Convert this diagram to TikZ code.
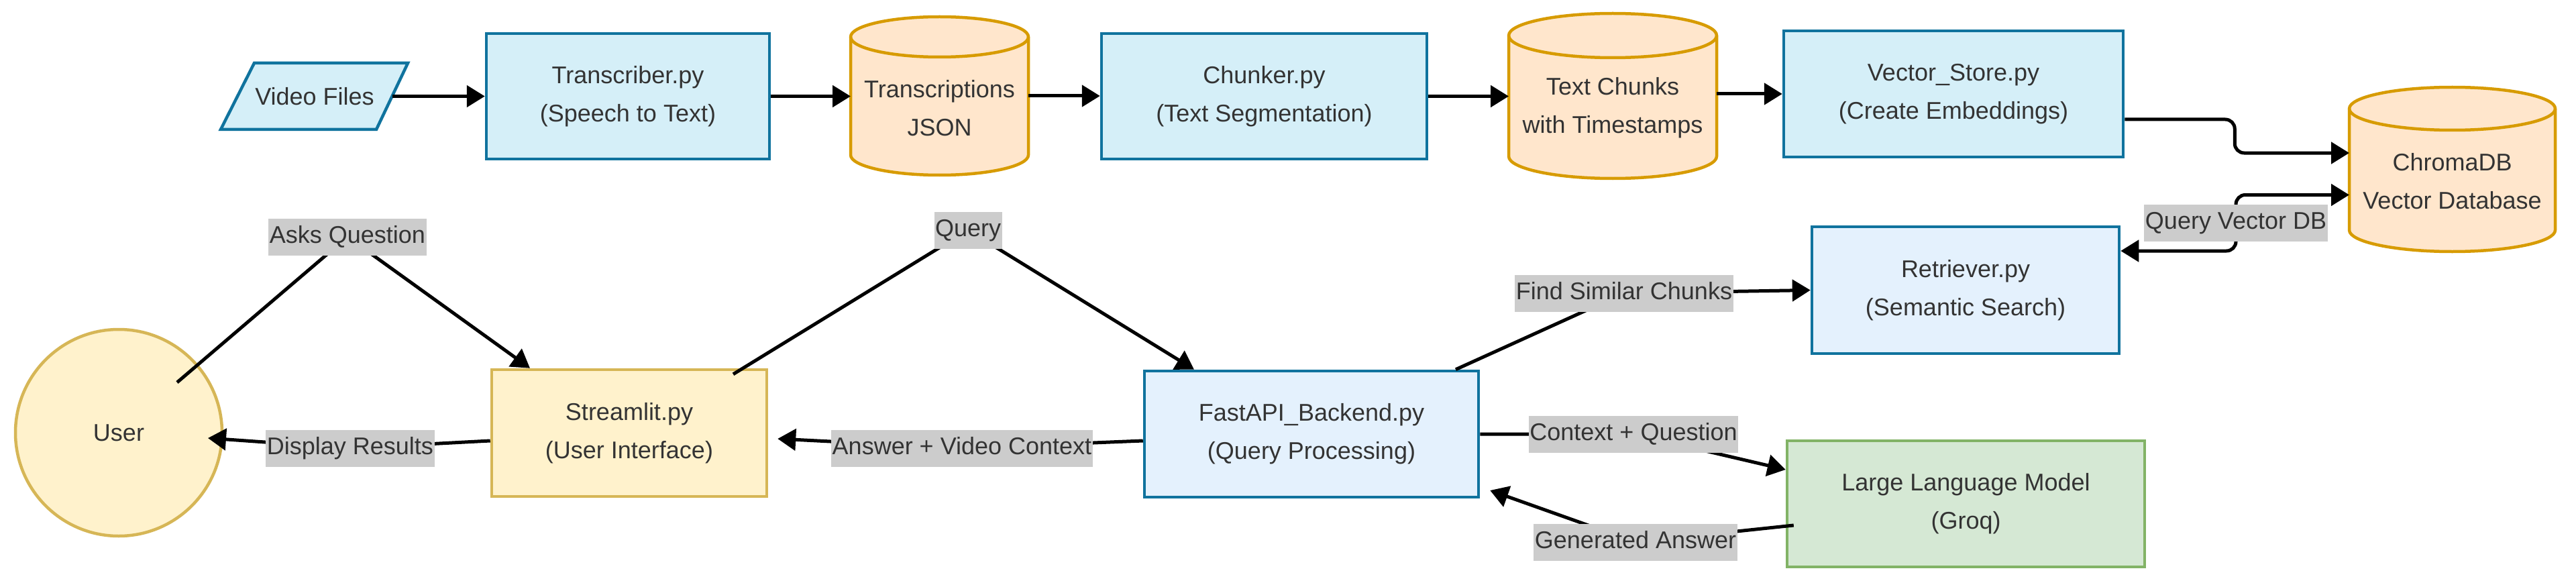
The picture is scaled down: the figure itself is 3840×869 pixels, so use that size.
\documentclass[tikz,border=0pt]{standalone}
\usepackage{fontspec}
\setmainfont{Liberation Sans}
\usetikzlibrary{arrows.meta,calc}
\definecolor{txt}{HTML}{333333}
\definecolor{tbfill}{HTML}{D5EFF8}
\definecolor{tbdraw}{HTML}{10739E}
\definecolor{lbfill}{HTML}{E4F1FD}
\definecolor{cyfill}{HTML}{FFE6CC}
\definecolor{cydraw}{HTML}{D79B00}
\definecolor{yefill}{HTML}{FFF2CC}
\definecolor{yedraw}{HTML}{D6B656}
\definecolor{grfill}{HTML}{D5E8D4}
\definecolor{grdraw}{HTML}{82B366}
\definecolor{lblgray}{HTML}{CCCCCC}
\pgfdeclarelayer{edges}
\pgfdeclarelayer{labels}
\pgfsetlayers{main,edges,labels}
\tikzset{
  basetext/.style={font=\fontsize{36pt}{57pt}\selectfont, text=txt, align=center, inner sep=0pt},
  topbox/.style={basetext, draw=tbdraw, fill=tbfill, line width=4.5pt},
  lightbox/.style={basetext, draw=tbdraw, fill=lbfill, line width=4.5pt},
  yellowbox/.style={basetext, draw=yedraw, fill=yefill, line width=4.5pt},
  greenbox/.style={basetext, draw=grdraw, fill=grfill, line width=4.5pt},
  cylanchor/.style={inner sep=0pt, outer sep=0pt},
  cylbody/.style={draw=cydraw, fill=cyfill, line width=4.5pt},
  cylrim/.style={draw=cydraw, line width=4.5pt},
  edgelabel/.style={basetext, fill=lblgray, inner xsep=1.5pt, inner ysep=0pt,
    minimum height=55pt, text height=26pt, text depth=7.5pt},
  edge/.style={draw=black, line width=5pt, -{Triangle[length=27pt,width=32pt]}},
  biedge/.style={draw=black, line width=5pt, {Triangle[length=27pt,width=32pt]}-{Triangle[length=27pt,width=32pt]}},
}
\newcommand{\mycyl}[3]{%
  \path[cylbody] ([yshift=-#3pt]#1.north west) -- ([yshift=#3pt]#1.south west)
    arc[start angle=180,end angle=360,x radius=#2pt,y radius=#3pt]
    -- ([yshift=-#3pt]#1.north east)
    arc[start angle=0,end angle=180,x radius=#2pt,y radius=#3pt] -- cycle;
  \path[cylrim] ([yshift=-#3pt]#1.north west)
    arc[start angle=180,end angle=360,x radius=#2pt,y radius=#3pt];
}
\begin{document}
\begin{tikzpicture}[x=1pt,y=-1pt]
\useasboundingbox (0,0) rectangle (3840,869);
\fill[white] (0,0) rectangle (3840,869);

% Video files (parallelogram)
\path[draw=tbdraw, fill=tbfill, line width=4.5pt] (379,94) -- (608,94) -- (561,193) -- (329,193) -- cycle;
\node[basetext] (vf) at (469,143.5) {Video Files};
\coordinate (vfR) at (584.5,143.5);

% top row
\node[topbox, minimum width=422pt, minimum height=187pt] (trans) at (936,143.5) {Transcriber.py\\(Speech to Text)};

\node[cylanchor, minimum width=265pt, minimum height=236pt] (tj) at (1400.5,143) {};
\mycyl{tj}{132.5}{30}
\node[basetext] (tjT) at (1400.5,161) {Transcriptions\\JSON};

\node[topbox, minimum width=485pt, minimum height=187pt] (chunk) at (1884.5,143.5) {Chunker.py\\(Text Segmentation)};

\node[cylanchor, minimum width=310pt, minimum height=246pt] (tc) at (2404,143) {};
\mycyl{tc}{155}{33}
\node[basetext] (tcT) at (2404,161) {Text Chunks\\with Timestamps};

\node[topbox, minimum width=506pt, minimum height=188pt] (vstore) at (2912,140) {Vector\_Store.py\\(Create Embeddings)};

\node[cylanchor, minimum width=307pt, minimum height=245pt] (chroma) at (3655.5,252.5) {};
\mycyl{chroma}{153.5}{32}
\node[basetext] (chromaT) at (3655.5,270) {ChromaDB\\Vector Database};

% lower part
\node[basetext, circle, draw=yedraw, fill=yefill, line width=4.5pt, minimum size=308pt] (user) at (177,645) {User};
\coordinate (uOut) at (264,570);
\coordinate (uIn) at (310,653);

\node[yellowbox, minimum width=410pt, minimum height=189pt] (stream) at (938,645.5) {Streamlit.py\\(User Interface)};
\node[lightbox, minimum width=498pt, minimum height=188pt] (fast) at (1955,647) {FastAPI\_Backend.py\\(Query Processing)};
\node[lightbox, minimum width=458pt, minimum height=189pt] (retr) at (2930,432.5) {Retriever.py\\(Semantic Search)};
\node[greenbox, minimum width=533pt, minimum height=188pt] (llm) at (2930.5,751) {Large Language Model\\(Groq)};

% labels
\begin{pgfonlayer}{labels}
\node[edgelabel] (lAsk) at (518,353) {Asks Question};
\node[edgelabel] (lQuery) at (1443,343) {Query};
\node[edgelabel] (lDisp) at (522,668) {Display Results};
\node[edgelabel] (lAns) at (1434,668) {Answer + Video Context};
\node[edgelabel] (lFind) at (2421,437) {Find Similar Chunks};
\node[edgelabel] (lCtx) at (2435,647) {Context + Question};
\node[edgelabel] (lGen) at (2438,808) {Generated Answer};
\node[edgelabel] (lQvdb) at (3333,332) {Query Vector DB};
\end{pgfonlayer}

% edges
\begin{pgfonlayer}{edges}
\draw[edge] (vfR) -- (trans.west);
\draw[edge] (trans.east) -- (trans.east -| tj.west);
\draw[edge] (tj.east) -- (tj.east -| chunk.west);
\draw[edge] (chunk.east) -- (chunk.east -| tc.west);
\draw[edge] (tc.east |- vstore.west) -- (vstore.west);
\draw[edge, rounded corners=14pt] ([yshift=-38pt]vstore.east) -- ++(164,0) |- ([yshift=24.5pt]chroma.west);
\draw[biedge, rounded corners=14pt] ([yshift=-38pt]chroma.west) -- ++(-169,0) |- ([yshift=58.5pt]retr.east);
\draw[edge] (uOut) -- (lAsk.center) -- ([xshift=-148pt]stream.north);
\draw[edge] ([xshift=155pt,yshift=-9pt]stream.north) -- (lQuery.center) -- ([xshift=-175pt]fast.north);
\draw[edge] ([yshift=-10pt]fast.west) -- (lAns.center) -- ([xshift=14pt,yshift=-8.5pt]stream.east);
\draw[edge] ([yshift=-11.5pt]stream.west) -- (lDisp.center) -- (uIn);
\draw[edge] ([xshift=215pt]fast.north) -- (lFind.center) -- (retr.west);
\draw[edge] (fast.east) -- (lCtx.center) -- ([yshift=51pt]llm.west);
\draw[edge] ([xshift=12pt,yshift=-32pt]llm.west) -- (lGen.center) -- ([xshift=15pt,yshift=-84pt]fast.east);
\end{pgfonlayer}
\end{tikzpicture}
\end{document}
